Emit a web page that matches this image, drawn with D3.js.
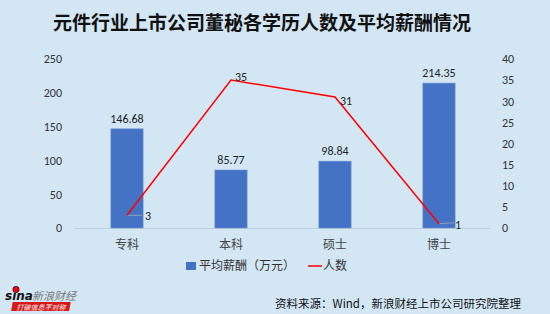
<!DOCTYPE html>
<html>
<head>
<meta charset="utf-8">
<script src="https://cdn.jsdelivr.net/npm/d3@7/dist/d3.min.js"></script>
<style>
  body { margin: 0; background: #d3e6f4; }
  svg { display: block; font-family: "Noto Sans CJK SC", "Noto Sans", sans-serif; }
</style>
</head>
<body>
<div id="chart"></div>
<script>
// data
const categories = ["专科", "本科", "硕士", "博士"];
const salary = [146.68, 85.77, 98.84, 214.35];
const people = [3, 35, 31, 1];
const leftTicks = [0, 50, 100, 150, 200, 250];
const rightTicks = [0, 5, 10, 15, 20, 25, 30, 35, 40];

const width = 550;
const height = 314;
const plot = { left: 75, right: 491, top: 59, bottom: 228 };

let svg = d3.select("#chart")
    .append("svg")
    .attr("width", width)
    .attr("height", height);

svg.append("rect").attr("width", width).attr("height", height).attr("fill", "#d3e6f4");

// title
svg.append("text")
    .attr("x", 262).attr("y", 30)
    .attr("text-anchor", "middle")
    .attr("font-size", 19).attr("font-weight", "bold")
    .attr("fill", "#111")
    .text("元件行业上市公司董秘各学历人数及平均薪酬情况");

// scales
let xScale = d3.scaleBand()
    .domain(categories)
    .range([plot.left, plot.right])
    .paddingInner(0.69).paddingOuter(0.345);
let yLeft = d3.scaleLinear().domain([0, 250]).range([plot.bottom, plot.top]);
let yRight = d3.scaleLinear().domain([0, 40]).range([plot.bottom, plot.top]);

// left axis
let leftAxis = svg.append("g")
    .attr("transform", "translate(" + 62 + ",0)")
    .call(d3.axisLeft(yLeft).tickValues(leftTicks).tickSize(0).tickPadding(0));
leftAxis.select(".domain").remove();
leftAxis.selectAll("text").attr("font-size", 12).attr("fill", "#333")
    .attr("font-family", "Calibri, 'Liberation Sans', 'Noto Sans', sans-serif");

// right axis
let rightAxis = svg.append("g")
    .attr("transform", "translate(" + 502 + ",0)")
    .call(d3.axisRight(yRight).tickValues(rightTicks).tickSize(0).tickPadding(0));
rightAxis.select(".domain").remove();
rightAxis.selectAll("text").attr("font-size", 12).attr("fill", "#333")
    .attr("font-family", "Calibri, 'Liberation Sans', 'Noto Sans', sans-serif");

// baseline
svg.append("line")
    .attr("x1", plot.left).attr("x2", plot.right)
    .attr("y1", plot.bottom + 0.5).attr("y2", plot.bottom + 0.5)
    .attr("stroke", "#c0cfdc").attr("stroke-width", 1);

// bars
svg.selectAll(".bar")
    .data(salary)
    .enter()
    .append("rect")
    .attr("class", "bar")
    .attr("x", (d, i) => xScale(categories[i]))
    .attr("width", xScale.bandwidth())
    .attr("y", d => yLeft(d))
    .attr("height", d => yLeft(0) - yLeft(d))
    .attr("fill", "#4472c4")
    .attr("stroke", "#6f93d4").attr("stroke-width", 0.6);

// bar labels
svg.selectAll(".bar-label")
    .data(salary)
    .enter()
    .append("text")
    .attr("x", (d, i) => xScale(categories[i]) + xScale.bandwidth() / 2)
    .attr("y", d => yLeft(d) - 6)
    .attr("text-anchor", "middle")
    .attr("font-size", 12).attr("fill", "#222")
    .attr("font-family", "Calibri, 'Liberation Sans', 'Noto Sans', sans-serif")
    .text(d => d.toFixed(2));

// category labels
svg.selectAll(".cat")
    .data(categories)
    .enter()
    .append("text")
    .attr("x", d => xScale(d) + xScale.bandwidth() / 2)
    .attr("y", 249)
    .attr("text-anchor", "middle")
    .attr("font-size", 12).attr("fill", "#444")
    .text(d => d);

// line
const cx = i => xScale(categories[i]) + xScale.bandwidth() / 2;
let line = d3.line()
    .x((d, i) => cx(i))
    .y(d => yRight(d));

// leader lines for low labels
[0, 3].forEach(i => {
    svg.append("line")
        .attr("x1", cx(i)).attr("y1", yRight(people[i]))
        .attr("x2", cx(i) + 15).attr("y2", yRight(people[i]) - (i === 3 ? 1 : 0))
        .attr("stroke", "#8aa0b8").attr("stroke-width", 1);
});

svg.append("path")
    .datum(people)
    .attr("d", line)
    .attr("fill", "none")
    .attr("stroke", "#ff0000")
    .attr("stroke-width", 1.5);

// line labels
const lblOffset = [[18, 5], [4, 1], [5, 8], [16, 5]];
svg.selectAll(".line-label")
    .data(people)
    .enter()
    .append("text")
    .attr("x", (d, i) => cx(i) + lblOffset[i][0])
    .attr("y", (d, i) => yRight(d) + lblOffset[i][1])
    .attr("font-size", 12).attr("fill", "#222")
    .attr("font-family", "Calibri, 'Liberation Sans', 'Noto Sans', sans-serif")
    .text(d => d);

// legend
let legend = svg.append("g");
legend.append("rect")
    .attr("x", 186).attr("y", 262).attr("width", 10).attr("height", 8)
    .attr("fill", "#4472c4");
legend.append("text")
    .attr("x", 199).attr("y", 270)
    .attr("font-size", 12).attr("fill", "#333")
    .text("平均薪酬（万元）");
legend.append("line")
    .attr("x1", 308).attr("x2", 322).attr("y1", 266).attr("y2", 266)
    .attr("stroke", "#ff0000").attr("stroke-width", 1.5);
legend.append("text")
    .attr("x", 323).attr("y", 270)
    .attr("font-size", 12).attr("fill", "#333")
    .text("人数");

// source
svg.append("text")
    .attr("x", 521).attr("y", 308)
    .attr("text-anchor", "end")
    .attr("font-size", 11.5).attr("fill", "#111")
    .text("资料来源：Wind，新浪财经上市公司研究院整理");

// sina logo
let logo = svg.append("g");
logo.append("text")
    .attr("x", 5).attr("y", 300)
    .attr("font-size", 12).attr("font-weight", "bold").attr("font-style", "italic")
    .attr("font-family", "'DejaVu Sans', sans-serif")
    .attr("fill", "#111")
    .text("sina");
logo.append("circle").attr("cx", 16).attr("cy", 289.5).attr("r", 3.2)
    .attr("fill", "#e60012").attr("stroke", "#111").attr("stroke-width", 0.6);
logo.append("text")
    .attr("x", 32).attr("y", 300)
    .attr("font-size", 11).attr("font-style", "italic")
    .attr("fill", "#777")
    .text("新浪财经");
logo.append("rect")
    .attr("x", 12).attr("y", 302).attr("width", 58).attr("height", 9)
    .attr("fill", "#d7191c").attr("transform", "skewX(-10)").attr("transform-origin", "40 306");
logo.append("text")
    .attr("x", 41).attr("y", 309.5)
    .attr("text-anchor", "middle")
    .attr("font-size", 7).attr("font-style", "italic")
    .attr("fill", "#fff")
    .text("打破信息不对称");
</script>
</body>
</html>
